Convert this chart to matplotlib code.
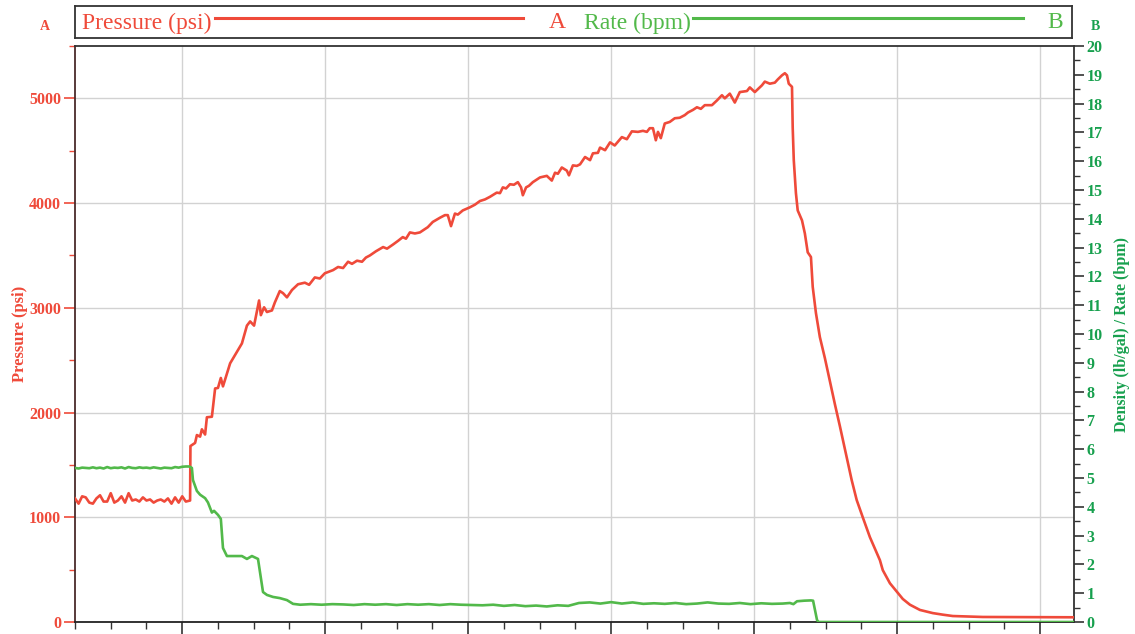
import matplotlib.pyplot as plt
from matplotlib.ticker import MultipleLocator, NullFormatter

plt.rcParams['font.family'] = ['Liberation Serif', 'DejaVu Serif']

RED = '#ef4a3a'
GREEN = '#52b94a'
GREEN_TXT = '#17a04e'

# time axis has no labels; one unit = one minor tick
p_time = [i / 10 for i in range(32)] + [
    3.22, 3.23, 3.36, 3.41, 3.50, 3.55, 3.64, 3.69, 3.83, 3.92, 4.00, 4.08, 4.14,
    4.34, 4.48, 4.67, 4.81, 4.90, 5.01, 5.15, 5.20, 5.29, 5.37, 5.51, 5.59, 5.73,
    5.82, 5.93, 6.07, 6.24, 6.43, 6.55, 6.71, 6.85, 6.99, 7.22, 7.36, 7.50, 7.64,
    7.75, 7.89, 8.03, 8.14, 8.25, 8.42, 8.62, 8.73, 8.90, 9.04, 9.17, 9.26, 9.37,
    9.51, 9.65, 9.76, 9.87, 10.01, 10.21, 10.35, 10.43, 10.52, 10.63, 10.71,
    10.85, 11.05, 11.19, 11.33, 11.47, 11.61, 11.80, 11.89, 11.97, 12.06, 12.17,
    12.28, 12.39, 12.48, 12.53, 12.62, 12.70, 12.81, 13.01, 13.20, 13.34, 13.43,
    13.51, 13.62, 13.76, 13.82, 13.93, 14.04, 14.13, 14.27, 14.41, 14.49, 14.63,
    14.69, 14.83, 14.97, 15.10, 15.30, 15.44, 15.58, 15.75, 15.89, 16.00, 16.08,
    16.17, 16.25, 16.31, 16.39, 16.50, 16.64, 16.78, 16.92, 17.06, 17.15, 17.29,
    17.40, 17.51, 17.62, 17.82, 17.96, 18.10, 18.18, 18.32, 18.46, 18.60, 18.80,
    18.88, 19.02, 19.22, 19.30, 19.44, 19.58, 19.66, 19.78, 19.86, 19.92, 19.97,
    20.06, 20.08, 20.11, 20.17, 20.22, 20.34, 20.42, 20.50, 20.59, 20.64, 20.73,
    20.84, 20.98, 21.12, 21.26, 21.40, 21.54, 21.73, 21.87, 22.04, 22.24, 22.43,
    22.52, 22.60, 22.80, 22.99, 23.16, 23.36, 23.64, 24.00, 24.28, 24.56, 25.40,
    27.95]
pressure = [
    1180, 1130, 1200, 1190, 1140, 1130, 1180, 1210, 1150, 1150, 1230, 1140, 1160,
    1200, 1140, 1230, 1160, 1170, 1150, 1190, 1160, 1170, 1140, 1160, 1170, 1150,
    1180, 1130, 1190, 1140, 1200, 1150,
    1160, 1680, 1710, 1785, 1770, 1840, 1790, 1955, 1960, 2230, 2235, 2330, 2250,
    2470, 2550, 2660, 2830, 2870, 2830, 3070, 2930, 3005, 2960, 2975, 3050, 3160,
    3140, 3100, 3170, 3225, 3240, 3220, 3290, 3280, 3330, 3360, 3390, 3380, 3440,
    3420, 3450, 3440, 3480, 3500, 3540, 3580, 3565, 3605, 3640, 3675, 3660, 3720,
    3710, 3720, 3745, 3770, 3820, 3860, 3885, 3885, 3780, 3900, 3890,
    3930, 3960, 3985, 4020, 4035, 4060, 4100, 4095, 4150, 4140, 4180,
    4175, 4200, 4150, 4075, 4150, 4165, 4200, 4245, 4260, 4215, 4290,
    4280, 4340, 4310, 4265, 4360, 4355, 4370, 4440, 4410, 4475, 4480,
    4530, 4505, 4580, 4550, 4630, 4610, 4685, 4680, 4690, 4680, 4715,
    4715, 4600, 4680, 4620, 4760, 4775, 4810, 4815, 4840, 4865, 4890,
    4915, 4900, 4935, 4935, 4980, 5030, 5000, 5045, 4960, 5060, 5070,
    5105, 5060, 5125, 5160, 5140, 5150, 5180, 5220, 5240, 5220, 5140,
    5110, 4720, 4410, 4095, 3930, 3835, 3710, 3530, 3485, 3200, 2950,
    2720, 2520, 2300, 2080, 1870, 1650, 1355, 1165, 1000, 810, 660,
    590, 495, 370, 290, 220, 165, 115, 85, 70, 57, 48,
    45]

r_time = [i / 10 for i in range(33)] + [
    3.27, 3.30, 3.41, 3.50, 3.64, 3.72, 3.83, 3.89, 4.00, 4.08, 4.14, 4.25, 4.48,
    4.67, 4.81, 4.95, 5.12, 5.26, 5.37, 5.54, 5.73, 5.93, 6.10,
    6.3, 6.6, 6.9, 7.2, 7.5, 7.8, 8.1, 8.4, 8.7, 9.0, 9.3, 9.6, 9.9, 10.2, 10.5,
    10.8, 11.1, 11.4, 11.7, 12.0, 12.3, 12.6, 12.9, 13.2, 13.5, 13.8, 14.1, 14.4,
    14.7, 15.0, 15.3, 15.6, 15.9, 16.2, 16.5, 16.8, 17.1, 17.4, 17.7, 18.0, 18.3,
    18.6, 18.9, 19.2, 19.5, 19.8, 20.0, 20.1, 20.2, 20.4, 20.59, 20.65, 20.76,
    20.8, 27.95]
rate = [
    5.35, 5.33, 5.36, 5.35, 5.34, 5.37, 5.34, 5.36, 5.33, 5.38, 5.34, 5.36, 5.35,
    5.37, 5.33, 5.38, 5.35, 5.34, 5.37, 5.35, 5.36, 5.34, 5.37, 5.35, 5.33, 5.36,
    5.35, 5.34, 5.38, 5.36, 5.39, 5.40, 5.40,
    5.35, 4.93, 4.55, 4.42, 4.30, 4.15, 3.80, 3.86, 3.72, 3.58, 2.57, 2.29, 2.29,
    2.29, 2.19, 2.29, 2.19, 1.04, 0.94, 0.87, 0.83, 0.76, 0.63,
    0.60, 0.62, 0.60, 0.62, 0.61, 0.59, 0.62, 0.60, 0.62, 0.59, 0.62, 0.60, 0.62,
    0.59, 0.62, 0.60, 0.59, 0.58, 0.60, 0.56, 0.59, 0.55, 0.57, 0.54, 0.58, 0.56,
    0.66, 0.68, 0.64, 0.69, 0.64, 0.68, 0.63, 0.65, 0.63, 0.66, 0.62, 0.64, 0.68,
    0.64, 0.63, 0.66, 0.62, 0.65, 0.63, 0.64, 0.66, 0.62, 0.72, 0.74, 0.75, 0.74,
    0.07, 0.0, 0.0]

W, H = 1135, 634
fig = plt.figure(figsize=(W / 100, H / 100), dpi=100)
ax = fig.add_axes([75 / W, 12 / H, 999 / W, 576 / H])
ax2 = ax.twinx()

ax.plot(p_time, pressure, color=RED, lw=1.9, zorder=3)
ax2.plot(r_time, rate, color=GREEN, lw=1.9, zorder=3)

ax.set_xlim(0, 27.95)
ax.set_ylim(0, 5500)
ax2.set_ylim(0, 20)

ax.set_xticks([3, 7, 11, 15, 19, 23, 27])
ax.xaxis.set_minor_locator(MultipleLocator(1))
ax.xaxis.set_major_formatter(NullFormatter())
ax.tick_params(axis='x', which='major', length=9, width=1.2, color='#333333', direction='out')
ax.tick_params(axis='x', which='minor', length=5, width=1, color='#333333', direction='out')

ax.yaxis.set_major_locator(MultipleLocator(1000))
ax.yaxis.set_minor_locator(MultipleLocator(500))
ax.tick_params(axis='y', which='major', length=8, width=1.2, color=RED, labelcolor=RED,
               labelsize=11.5, pad=2)
ax.tick_params(axis='y', which='minor', length=4, width=1, color=RED)
for t in ax.get_yticklabels():
    t.set_fontweight('bold')

ax2.yaxis.set_major_locator(MultipleLocator(1))
ax2.yaxis.set_minor_locator(MultipleLocator(0.5))
ax2.tick_params(axis='y', which='major', length=7, width=1.2, color='#333333',
                labelcolor=GREEN_TXT, labelsize=11.5, pad=2)
ax2.tick_params(axis='y', which='minor', length=4, width=1, color='#333333')
for t in ax2.get_yticklabels():
    t.set_fontweight('bold')

ax.grid(True, which='major', color='#d2d2d2', lw=1)
ax.set_axisbelow(True)

for s in ax2.spines.values():
    s.set_visible(False)
ax.spines['left'].set_color('#4a2b2b')
ax.spines['bottom'].set_color('#222222')
ax.spines['top'].set_color('#333333')
ax.spines['right'].set_color('#333333')
for s in ax.spines.values():
    s.set_linewidth(1.3)

ax.set_ylabel('Pressure (psi)', color=RED, fontsize=12, fontweight='bold', labelpad=1)
ax2.set_ylabel('Density (lb/gal) / Rate (bpm)', color=GREEN_TXT, fontsize=11.5,
               fontweight='bold', labelpad=8)

fig.text(45 / W, 1 - 27 / H, 'A', color=RED, fontsize=10, fontweight='bold',
         ha='center', va='center')
fig.text(1095 / W, 1 - 27 / H, 'B', color=GREEN_TXT, fontsize=10, fontweight='bold',
         ha='center', va='center')

# header legend box
lg = fig.add_axes([75 / W, 1 - 38 / H, 997 / W, 32 / H])
lg.set_xlim(0, 997)
lg.set_ylim(0, 32)
lg.set_xticks([])
lg.set_yticks([])
for s in lg.spines.values():
    s.set_color('#333333')
    s.set_linewidth(1.3)
lg.text(7, 15, 'Pressure (psi)', color=RED, fontsize=17, va='center', ha='left')
lg.plot([140, 448], [20, 20], color=RED, lw=2.2)
lg.text(482, 15, 'A', color=RED, fontsize=17, va='center', ha='center')
lg.text(509, 15, 'Rate (bpm)', color=GREEN, fontsize=17, va='center', ha='left')
lg.plot([618, 948], [20, 20], color=GREEN, lw=2.2)
lg.text(980, 15, 'B', color=GREEN, fontsize=17, va='center', ha='center')

fig.savefig('out.png', dpi=100)
